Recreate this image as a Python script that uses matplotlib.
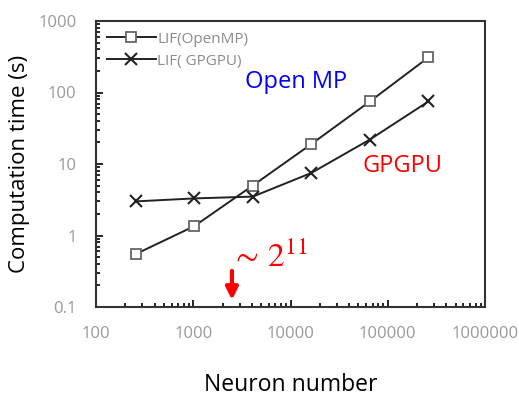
import numpy as np
import matplotlib
matplotlib.use("Agg")
import matplotlib.pyplot as plt

# neuron counts (2^8 .. 2^18)
neurons = [256, 1024, 4096, 16384, 65536, 262144]
t_openmp = [0.55, 1.35, 5.0, 19.0, 75.0, 310.0]
t_gpgpu = [3.0, 3.3, 3.5, 7.5, 22.0, 75.0]

plt.rcParams['font.family'] = ['Open Sans', 'DejaVu Sans']
plt.rcParams['mathtext.fontset'] = 'stix'

fig = plt.figure(figsize=(5.19, 3.96), dpi=100)
ax = fig.add_axes([96/519, 1 - 307/396, 389/519, 286/396])

ax.plot(neurons, t_openmp, color='#222222', lw=1.4, marker='s', ms=7,
        mfc='white', mec='#666666', mew=1.3, label='LIF(OpenMP)')
ax.plot(neurons, t_gpgpu, color='#222222', lw=1.4, marker='x', ms=8,
        mec='#222222', mew=1.5, label='LIF( GPGPU)')

ax.set_xscale('log')
ax.set_yscale('log')
ax.set_xlim(100, 1e6)
ax.set_ylim(0.1, 1000)
ax.set_xticks([100, 1000, 10000, 100000, 1000000])
ax.set_xticklabels(['100', '1000', '10000', '100000', '1000000'])
ax.set_yticks([0.1, 1, 10, 100, 1000])
ax.set_yticklabels(['0.1', '1', '10', '100', '1000'])

ax.tick_params(which='both', direction='in', top=False, right=False,
               labelcolor='#999999', labelsize=12, width=1.2)
ax.tick_params(which='major', length=5)
ax.tick_params(axis='y', which='major', pad=14)
ax.tick_params(axis='x', which='major', pad=14)
ax.tick_params(which='minor', length=3)
for s in ax.spines.values():
    s.set_linewidth(1.5)
    s.set_color('#333333')

ax.set_xlabel('Neuron number', fontsize=16.5, labelpad=22)
ax.set_ylabel('Computation time (s)', fontsize=16, labelpad=6)

leg = ax.legend(loc='upper left', frameon=False, fontsize=11, handlelength=3.2,
                handletextpad=0.1, borderaxespad=0.3, labelspacing=0.45)
for t in leg.get_texts():
    t.set_color('#8c8c8c')

ax.text(0.383, 0.787, 'Open MP', color='#0000ff', fontsize=17, va='center',
        transform=ax.transAxes)
ax.text(0.684, 0.493, 'GPGPU', color='#ff0000', fontsize=17, va='center',
        transform=ax.transAxes)
ax.text(2450, 0.36, r'$\sim\,2^{11}$', color='#ff0000', fontsize=24, va='baseline')
ax.annotate('', xy=(2500, 0.115), xytext=(2500, 0.35),
            arrowprops=dict(arrowstyle='-|>', color='#ff0000', lw=3,
                            mutation_scale=18))

fig.savefig('out.png', dpi=100)
